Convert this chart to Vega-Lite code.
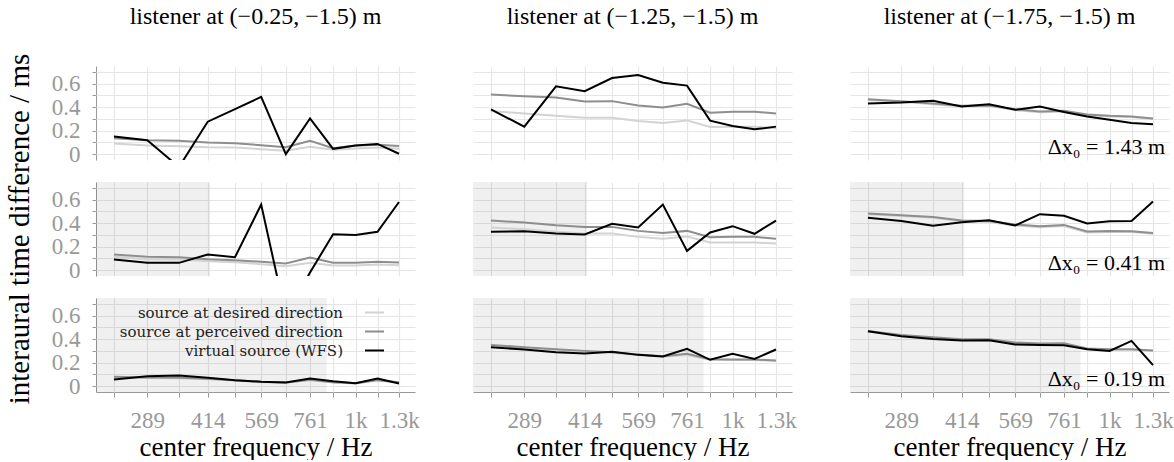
{
  "$schema": "https://vega.github.io/schema/vega-lite/v6.json",
  "padding": {"left": 5, "top": 5, "right": 5, "bottom": 0},
  "background": "white",
  "config": {
    "font": "Liberation Serif",
    "view": {"stroke": null},
    "axis": {"titleFontWeight": "normal", "labelFont": "Liberation Serif", "titleFont": "Liberation Serif"}
  },
  "data": {"values": [
    {"l":"−0.25","dx":"1.43","f":237,"d":0.09,"p":0.135,"w":0.149},
    {"l":"−0.25","dx":"1.43","f":289,"d":0.073,"p":0.118,"w":0.118},
    {"l":"−0.25","dx":"1.43","f":349,"d":0.068,"p":0.113,"w":-0.11},
    {"l":"−0.25","dx":"1.43","f":414,"d":0.059,"p":0.099,"w":0.276},
    {"l":"−0.25","dx":"1.43","f":487,"d":0.056,"p":0.093,"w":0.383},
    {"l":"−0.25","dx":"1.43","f":569,"d":0.042,"p":0.076,"w":0.487},
    {"l":"−0.25","dx":"1.43","f":659,"d":0.028,"p":0.059,"w":0.0},
    {"l":"−0.25","dx":"1.43","f":761,"d":0.062,"p":0.113,"w":0.304},
    {"l":"−0.25","dx":"1.43","f":873,"d":0.037,"p":0.051,"w":0.045},
    {"l":"−0.25","dx":"1.43","f":998,"d":0.048,"p":0.073,"w":0.073},
    {"l":"−0.25","dx":"1.43","f":1137,"d":0.056,"p":0.079,"w":0.087},
    {"l":"−0.25","dx":"1.43","f":1292,"d":0.045,"p":0.07,"w":0.003},

    {"l":"−1.25","dx":"1.43","f":237,"d":0.366,"p":0.507,"w":0.38},
    {"l":"−1.25","dx":"1.43","f":289,"d":0.346,"p":0.493,"w":0.234},
    {"l":"−1.25","dx":"1.43","f":349,"d":0.327,"p":0.482,"w":0.577},
    {"l":"−1.25","dx":"1.43","f":414,"d":0.31,"p":0.448,"w":0.535},
    {"l":"−1.25","dx":"1.43","f":487,"d":0.31,"p":0.451,"w":0.648},
    {"l":"−1.25","dx":"1.43","f":569,"d":0.282,"p":0.414,"w":0.673},
    {"l":"−1.25","dx":"1.43","f":659,"d":0.265,"p":0.397,"w":0.608},
    {"l":"−1.25","dx":"1.43","f":761,"d":0.287,"p":0.428,"w":0.583},
    {"l":"−1.25","dx":"1.43","f":873,"d":0.231,"p":0.352,"w":0.285},
    {"l":"−1.25","dx":"1.43","f":998,"d":0.234,"p":0.361,"w":0.239},
    {"l":"−1.25","dx":"1.43","f":1137,"d":0.234,"p":0.361,"w":0.211},
    {"l":"−1.25","dx":"1.43","f":1292,"d":0.22,"p":0.346,"w":0.234},

    {"l":"−1.75","dx":"1.43","f":237,"d":0.46,"p":0.468,"w":0.431},
    {"l":"−1.75","dx":"1.43","f":289,"d":0.445,"p":0.451,"w":0.439},
    {"l":"−1.75","dx":"1.43","f":349,"d":0.425,"p":0.431,"w":0.454},
    {"l":"−1.75","dx":"1.43","f":414,"d":0.405,"p":0.411,"w":0.406},
    {"l":"−1.75","dx":"1.43","f":487,"d":0.41,"p":0.414,"w":0.425},
    {"l":"−1.75","dx":"1.43","f":569,"d":0.375,"p":0.383,"w":0.377},
    {"l":"−1.75","dx":"1.43","f":659,"d":0.357,"p":0.363,"w":0.406},
    {"l":"−1.75","dx":"1.43","f":761,"d":0.362,"p":0.369,"w":0.358},
    {"l":"−1.75","dx":"1.43","f":873,"d":0.33,"p":0.338,"w":0.321},
    {"l":"−1.75","dx":"1.43","f":998,"d":0.32,"p":0.327,"w":0.293},
    {"l":"−1.75","dx":"1.43","f":1137,"d":0.315,"p":0.321,"w":0.265},
    {"l":"−1.75","dx":"1.43","f":1292,"d":0.298,"p":0.304,"w":0.254},

    {"l":"−0.25","dx":"0.41","f":237,"d":0.113,"p":0.133,"w":0.091},
    {"l":"−0.25","dx":"0.41","f":289,"d":0.093,"p":0.113,"w":0.062},
    {"l":"−0.25","dx":"0.41","f":349,"d":0.09,"p":0.11,"w":0.062},
    {"l":"−0.25","dx":"0.41","f":414,"d":0.076,"p":0.093,"w":0.133},
    {"l":"−0.25","dx":"0.41","f":487,"d":0.068,"p":0.085,"w":0.11},
    {"l":"−0.25","dx":"0.41","f":569,"d":0.051,"p":0.071,"w":0.558},
    {"l":"−0.25","dx":"0.41","f":659,"d":0.034,"p":0.057,"w":-0.39},
    {"l":"−0.25","dx":"0.41","f":761,"d":0.062,"p":0.108,"w":-0.02},
    {"l":"−0.25","dx":"0.41","f":873,"d":0.04,"p":0.062,"w":0.306},
    {"l":"−0.25","dx":"0.41","f":998,"d":0.04,"p":0.062,"w":0.3},
    {"l":"−0.25","dx":"0.41","f":1137,"d":0.048,"p":0.071,"w":0.326},
    {"l":"−0.25","dx":"0.41","f":1292,"d":0.042,"p":0.065,"w":0.58},

    {"l":"−1.25","dx":"0.41","f":237,"d":0.363,"p":0.422,"w":0.326},
    {"l":"−1.25","dx":"0.41","f":289,"d":0.348,"p":0.405,"w":0.331},
    {"l":"−1.25","dx":"0.41","f":349,"d":0.326,"p":0.382,"w":0.312},
    {"l":"−1.25","dx":"0.41","f":414,"d":0.312,"p":0.368,"w":0.303},
    {"l":"−1.25","dx":"0.41","f":487,"d":0.312,"p":0.368,"w":0.394},
    {"l":"−1.25","dx":"0.41","f":569,"d":0.283,"p":0.334,"w":0.363},
    {"l":"−1.25","dx":"0.41","f":659,"d":0.266,"p":0.317,"w":0.558},
    {"l":"−1.25","dx":"0.41","f":761,"d":0.286,"p":0.334,"w":0.164},
    {"l":"−1.25","dx":"0.41","f":873,"d":0.235,"p":0.28,"w":0.32},
    {"l":"−1.25","dx":"0.41","f":998,"d":0.235,"p":0.283,"w":0.374},
    {"l":"−1.25","dx":"0.41","f":1137,"d":0.235,"p":0.283,"w":0.309},
    {"l":"−1.25","dx":"0.41","f":1292,"d":0.227,"p":0.266,"w":0.422},

    {"l":"−1.75","dx":"0.41","f":237,"d":0.475,"p":0.482,"w":0.445},
    {"l":"−1.75","dx":"0.41","f":289,"d":0.46,"p":0.467,"w":0.419},
    {"l":"−1.75","dx":"0.41","f":349,"d":0.445,"p":0.453,"w":0.377},
    {"l":"−1.75","dx":"0.41","f":414,"d":0.415,"p":0.422,"w":0.408},
    {"l":"−1.75","dx":"0.41","f":487,"d":0.41,"p":0.419,"w":0.425},
    {"l":"−1.75","dx":"0.41","f":569,"d":0.38,"p":0.388,"w":0.38},
    {"l":"−1.75","dx":"0.41","f":659,"d":0.365,"p":0.374,"w":0.476},
    {"l":"−1.75","dx":"0.41","f":761,"d":0.375,"p":0.385,"w":0.462},
    {"l":"−1.75","dx":"0.41","f":873,"d":0.32,"p":0.329,"w":0.397},
    {"l":"−1.75","dx":"0.41","f":998,"d":0.325,"p":0.334,"w":0.416},
    {"l":"−1.75","dx":"0.41","f":1137,"d":0.325,"p":0.331,"w":0.419},
    {"l":"−1.75","dx":"0.41","f":1292,"d":0.31,"p":0.317,"w":0.584},

    {"l":"−0.25","dx":"0.19","f":237,"d":0.075,"p":0.079,"w":0.057},
    {"l":"−0.25","dx":"0.19","f":289,"d":0.07,"p":0.074,"w":0.085},
    {"l":"−0.25","dx":"0.19","f":349,"d":0.067,"p":0.071,"w":0.091},
    {"l":"−0.25","dx":"0.19","f":414,"d":0.058,"p":0.062,"w":0.071},
    {"l":"−0.25","dx":"0.19","f":487,"d":0.047,"p":0.051,"w":0.051},
    {"l":"−0.25","dx":"0.19","f":569,"d":0.034,"p":0.037,"w":0.037},
    {"l":"−0.25","dx":"0.19","f":659,"d":0.028,"p":0.031,"w":0.031},
    {"l":"−0.25","dx":"0.19","f":761,"d":0.05,"p":0.054,"w":0.065},
    {"l":"−0.25","dx":"0.19","f":873,"d":0.031,"p":0.034,"w":0.042},
    {"l":"−0.25","dx":"0.19","f":998,"d":0.023,"p":0.025,"w":0.025},
    {"l":"−0.25","dx":"0.19","f":1137,"d":0.047,"p":0.051,"w":0.065},
    {"l":"−0.25","dx":"0.19","f":1292,"d":0.031,"p":0.034,"w":0.023},

    {"l":"−1.25","dx":"0.19","f":237,"d":0.345,"p":0.351,"w":0.331},
    {"l":"−1.25","dx":"0.19","f":289,"d":0.325,"p":0.331,"w":0.312},
    {"l":"−1.25","dx":"0.19","f":349,"d":0.31,"p":0.314,"w":0.289},
    {"l":"−1.25","dx":"0.19","f":414,"d":0.295,"p":0.3,"w":0.278},
    {"l":"−1.25","dx":"0.19","f":487,"d":0.285,"p":0.289,"w":0.292},
    {"l":"−1.25","dx":"0.19","f":569,"d":0.265,"p":0.269,"w":0.266},
    {"l":"−1.25","dx":"0.19","f":659,"d":0.25,"p":0.255,"w":0.252},
    {"l":"−1.25","dx":"0.19","f":761,"d":0.265,"p":0.275,"w":0.317},
    {"l":"−1.25","dx":"0.19","f":873,"d":0.225,"p":0.229,"w":0.224},
    {"l":"−1.25","dx":"0.19","f":998,"d":0.222,"p":0.227,"w":0.275},
    {"l":"−1.25","dx":"0.19","f":1137,"d":0.222,"p":0.227,"w":0.232},
    {"l":"−1.25","dx":"0.19","f":1292,"d":0.214,"p":0.218,"w":0.312},

    {"l":"−1.75","dx":"0.19","f":237,"d":0.465,"p":0.47,"w":0.467},
    {"l":"−1.75","dx":"0.19","f":289,"d":0.43,"p":0.436,"w":0.425},
    {"l":"−1.75","dx":"0.19","f":349,"d":0.41,"p":0.416,"w":0.402},
    {"l":"−1.75","dx":"0.19","f":414,"d":0.393,"p":0.399,"w":0.388},
    {"l":"−1.75","dx":"0.19","f":487,"d":0.393,"p":0.399,"w":0.391},
    {"l":"−1.75","dx":"0.19","f":569,"d":0.365,"p":0.371,"w":0.354},
    {"l":"−1.75","dx":"0.19","f":659,"d":0.357,"p":0.363,"w":0.351},
    {"l":"−1.75","dx":"0.19","f":761,"d":0.358,"p":0.365,"w":0.348},
    {"l":"−1.75","dx":"0.19","f":873,"d":0.315,"p":0.32,"w":0.314},
    {"l":"−1.75","dx":"0.19","f":998,"d":0.31,"p":0.314,"w":0.3},
    {"l":"−1.75","dx":"0.19","f":1137,"d":0.31,"p":0.314,"w":0.385},
    {"l":"−1.75","dx":"0.19","f":1292,"d":0.298,"p":0.303,"w":0.178},

    {"l":"−0.25","dx":"0.41","alias":420},
    {"l":"−1.25","dx":"0.41","alias":420},
    {"l":"−1.75","dx":"0.41","alias":420},
    {"l":"−0.25","dx":"0.19","alias":840},
    {"l":"−1.25","dx":"0.19","alias":840},
    {"l":"−1.75","dx":"0.19","alias":840},

    {"l":"−1.75","dx":"1.43","note":"Δx₀ = 1.43 m"},
    {"l":"−1.75","dx":"0.41","note":"Δx₀ = 0.41 m"},
    {"l":"−1.75","dx":"0.19","note":"Δx₀ = 0.19 m"}
  ]},
  "facet": {
    "column": {
      "field": "l", "type": "nominal", "sort": ["−0.25", "−1.25", "−1.75"],
      "header": {"title": null, "labelExpr": "'listener at (' + datum.value + ', −1.5) m'", "labelFontSize": 24, "labelFont": "Liberation Serif", "labelColor": "black", "labelPadding": 37}
    },
    "row": {
      "field": "dx", "type": "nominal", "sort": ["1.43", "0.41", "0.19"],
      "header": {"title": "interaural time difference / ms", "labels": false, "titleFontSize": 29, "titleFont": "Liberation Serif", "titleFontWeight": "normal", "titleColor": "black", "titlePadding": 6}
    }
  },
  "spacing": {"row": 22, "column": 58},
  "spec": {
    "width": 319,
    "height": 94,
    "layer": [
      {
        "transform": [{"filter": "isValid(datum.alias)"}],
        "mark": {"type": "rect", "color": "#000000", "opacity": 0.058, "clip": true},
        "encoding": {
          "x": {"field": "alias", "type": "quantitative"},
          "x2": {"datum": 213}
        }
      },
      {
        "transform": [
          {"filter": "isValid(datum.f)"},
          {"fold": ["d", "p", "w"], "as": ["series", "itd"]}
        ],
        "mark": {"type": "line", "clip": true, "strokeWidth": 2},
        "encoding": {
          "x": {
            "field": "f", "type": "quantitative",
            "scale": {"type": "log", "domain": [213, 1421], "nice": false},
            "axis": {
              "title": "center frequency / Hz",
              "values": [237, 289, 349, 414, 487, 569, 659, 761, 873, 998, 1137, 1292],
              "labelExpr": "datum.value == 289 ? '289' : datum.value == 414 ? '414' : datum.value == 569 ? '569' : datum.value == 761 ? '761' : datum.value == 998 ? '1k' : datum.value == 1292 ? '1.3k' : ''",
              "grid": true, "gridColor": "#e6e6e6", "gridWidth": 1.2,
              "domainColor": "#999999", "tickColor": "#999999", "tickSize": 5,
              "labelColor": "#999999", "labelFontSize": 23, "labelPadding": 12, "labelFlush": false, "labelOverlap": false,
              "titleFontSize": 27, "titleColor": "black", "titlePadding": 2
            }
          },
          "y": {
            "field": "itd", "type": "quantitative",
            "scale": {"domain": [-0.05, 0.75], "nice": false, "zero": false},
            "axis": {
              "title": null,
              "values": [0, 0.1, 0.2, 0.3, 0.4, 0.5, 0.6, 0.7],
              "labelExpr": "datum.value == 0 ? '0' : datum.value == 0.2 ? '0.2' : datum.value == 0.4 ? '0.4' : datum.value == 0.6 ? '0.6' : ''",
              "grid": true, "gridColor": "#e6e6e6", "gridWidth": 1.2,
              "domainColor": "#999999", "tickColor": "#999999", "tickSize": 4,
              "labelColor": "#999999", "labelFontSize": 23, "labelPadding": 12, "labelFlush": false, "labelOverlap": false
            }
          },
          "color": {
            "field": "series", "type": "nominal",
            "scale": {"domain": ["d", "p", "w"], "range": ["#d3d3d3", "#8e8e8e", "#000000"]},
            "legend": {
              "title": null, "orient": "none", "legendX": 268, "legendY": 236,
              "labelExpr": "datum.value == 'd' ? 'source at desired direction' : datum.value == 'p' ? 'source at perceived direction' : 'virtual source (WFS)'",
              "symbolType": "stroke", "symbolStrokeWidth": 2, "symbolSize": 361,
              "labelAlign": "right", "labelOffset": -42, "labelFontSize": 15, "labelFont": "DejaVu Serif", "labelColor": "#222222",
              "labelLimit": 400, "rowPadding": -3
            }
          }
        }
      },
      {
        "transform": [{"filter": "isValid(datum.note)"}],
        "mark": {"type": "text", "align": "right", "baseline": "bottom", "fontSize": 22, "font": "Liberation Serif", "color": "black", "dx": -4, "dy": -1},
        "encoding": {
          "x": {"datum": 1421, "type": "quantitative"},
          "y": {
            "datum": -0.05, "type": "quantitative",
            "axis": {
              "title": null,
              "values": [0, 0.1, 0.2, 0.3, 0.4, 0.5, 0.6, 0.7],
              "labelExpr": "datum.value == 0 ? '0' : datum.value == 0.2 ? '0.2' : datum.value == 0.4 ? '0.4' : datum.value == 0.6 ? '0.6' : ''",
              "grid": true, "gridColor": "#e6e6e6", "gridWidth": 1.2,
              "domainColor": "#999999", "tickColor": "#999999", "tickSize": 4,
              "labelColor": "#999999", "labelFontSize": 23, "labelPadding": 12, "labelFlush": false, "labelOverlap": false
            }
          },
          "text": {"field": "note"}
        }
      }
    ]
  }
}
